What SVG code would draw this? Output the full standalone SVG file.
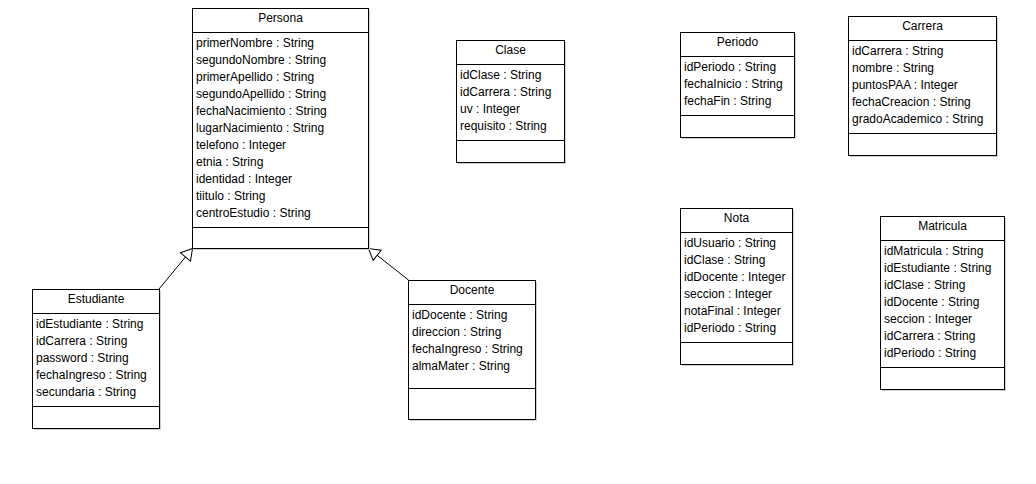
<svg xmlns="http://www.w3.org/2000/svg" width="1036" height="484" viewBox="0 0 1036 484">
<style>
.box{fill:#fff;stroke:#000;stroke-width:1}
.sh{fill:#cfcfcf}
.ln{stroke:#000;stroke-width:1;fill:none}
text{font-family:"Liberation Sans",Arial,sans-serif;font-size:12px;fill:#000}
.t{text-anchor:middle}
</style>
<defs>
<marker id="gen" markerUnits="userSpaceOnUse" markerWidth="14" markerHeight="14" refX="11" refY="6.5" orient="auto" overflow="visible">
<path d="M0,0 L11,6.5 L0,13 Z" fill="#fff" stroke="#000" stroke-width="1"/>
</marker>
</defs>
<rect width="1036" height="484" fill="#fff"/>
<g id="connectors">
<line class="ln" x1="159" y1="289" x2="192.5" y2="248.5" marker-end="url(#gen)"/>
<line class="ln" x1="408.5" y1="280" x2="368.5" y2="248.5" marker-end="url(#gen)"/>
</g>
<g id="Persona">
<rect class="sh" x="194" y="10" width="176" height="240"/>
<rect class="box" x="192.5" y="8.5" width="176" height="240"/>
<line class="ln" x1="192.5" y1="32.5" x2="368.5" y2="32.5"/>
<line class="ln" x1="192.5" y1="227.5" x2="368.5" y2="227.5"/>
<text class="t" x="280.5" y="22">Persona</text>
<text x="196" y="47">primerNombre : String</text>
<text x="196" y="64">segundoNombre : String</text>
<text x="196" y="81">primerApellido : String</text>
<text x="196" y="98">segundoApellido : String</text>
<text x="196" y="115">fechaNacimiento : String</text>
<text x="196" y="132">lugarNacimiento : String</text>
<text x="196" y="149">telefono : Integer</text>
<text x="196" y="166">etnia : String</text>
<text x="196" y="183">identidad : Integer</text>
<text x="196" y="200">tiitulo : String</text>
<text x="196" y="217">centroEstudio : String</text>
</g>
<g id="Estudiante">
<rect class="sh" x="34" y="291" width="127" height="139"/>
<rect class="box" x="32.5" y="289.5" width="127" height="139"/>
<line class="ln" x1="32.5" y1="313.5" x2="159.5" y2="313.5"/>
<line class="ln" x1="32.5" y1="406.5" x2="159.5" y2="406.5"/>
<text class="t" x="96" y="303">Estudiante</text>
<text x="36" y="328">idEstudiante : String</text>
<text x="36" y="345">idCarrera : String</text>
<text x="36" y="362">password : String</text>
<text x="36" y="379">fechaIngreso : String</text>
<text x="36" y="396">secundaria : String</text>
</g>
<g id="Docente">
<rect class="sh" x="410" y="282" width="127" height="139"/>
<rect class="box" x="408.5" y="280.5" width="127" height="139"/>
<line class="ln" x1="408.5" y1="304.5" x2="535.5" y2="304.5"/>
<line class="ln" x1="408.5" y1="388.5" x2="535.5" y2="388.5"/>
<text class="t" x="472" y="294">Docente</text>
<text x="412" y="319">idDocente : String</text>
<text x="412" y="336">direccion : String</text>
<text x="412" y="353">fechaIngreso : String</text>
<text x="412" y="370">almaMater : String</text>
</g>
<g id="Clase">
<rect class="sh" x="458" y="42" width="108" height="122"/>
<rect class="box" x="456.5" y="40.5" width="108" height="122"/>
<line class="ln" x1="456.5" y1="64.5" x2="564.5" y2="64.5"/>
<line class="ln" x1="456.5" y1="140.5" x2="564.5" y2="140.5"/>
<text class="t" x="510.5" y="54">Clase</text>
<text x="460" y="79">idClase : String</text>
<text x="460" y="96">idCarrera : String</text>
<text x="460" y="113">uv : Integer</text>
<text x="460" y="130">requisito : String</text>
</g>
<g id="Periodo">
<rect class="sh" x="682" y="34" width="114" height="105"/>
<rect class="box" x="680.5" y="32.5" width="114" height="105"/>
<line class="ln" x1="680.5" y1="56.5" x2="794.5" y2="56.5"/>
<line class="ln" x1="680.5" y1="115.5" x2="794.5" y2="115.5"/>
<text class="t" x="737.5" y="46">Periodo</text>
<text x="684" y="71">idPeriodo : String</text>
<text x="684" y="88">fechaInicio : String</text>
<text x="684" y="105">fechaFin : String</text>
</g>
<g id="Carrera">
<rect class="sh" x="850" y="18" width="148" height="139"/>
<rect class="box" x="848.5" y="16.5" width="148" height="139"/>
<line class="ln" x1="848.5" y1="40.5" x2="996.5" y2="40.5"/>
<line class="ln" x1="848.5" y1="133.5" x2="996.5" y2="133.5"/>
<text class="t" x="922.5" y="30">Carrera</text>
<text x="852" y="55">idCarrera : String</text>
<text x="852" y="72">nombre : String</text>
<text x="852" y="89">puntosPAA : Integer</text>
<text x="852" y="106">fechaCreacion : String</text>
<text x="852" y="123">gradoAcademico : String</text>
</g>
<g id="Nota">
<rect class="sh" x="682" y="210" width="112" height="156"/>
<rect class="box" x="680.5" y="208.5" width="112" height="156"/>
<line class="ln" x1="680.5" y1="232.5" x2="792.5" y2="232.5"/>
<line class="ln" x1="680.5" y1="342.5" x2="792.5" y2="342.5"/>
<text class="t" x="736.5" y="222">Nota</text>
<text x="684" y="247">idUsuario : String</text>
<text x="684" y="264">idClase : String</text>
<text x="684" y="281">idDocente : Integer</text>
<text x="684" y="298">seccion : Integer</text>
<text x="684" y="315">notaFinal : Integer</text>
<text x="684" y="332">idPeriodo : String</text>
</g>
<g id="Matricula">
<rect class="sh" x="882" y="218" width="124" height="173"/>
<rect class="box" x="880.5" y="216.5" width="124" height="173"/>
<line class="ln" x1="880.5" y1="240.5" x2="1004.5" y2="240.5"/>
<line class="ln" x1="880.5" y1="367.5" x2="1004.5" y2="367.5"/>
<text class="t" x="942.5" y="230">Matricula</text>
<text x="884" y="255">idMatricula : String</text>
<text x="884" y="272">idEstudiante : String</text>
<text x="884" y="289">idClase : String</text>
<text x="884" y="306">idDocente : String</text>
<text x="884" y="323">seccion : Integer</text>
<text x="884" y="340">idCarrera : String</text>
<text x="884" y="357">idPeriodo : String</text>
</g>
</svg>
